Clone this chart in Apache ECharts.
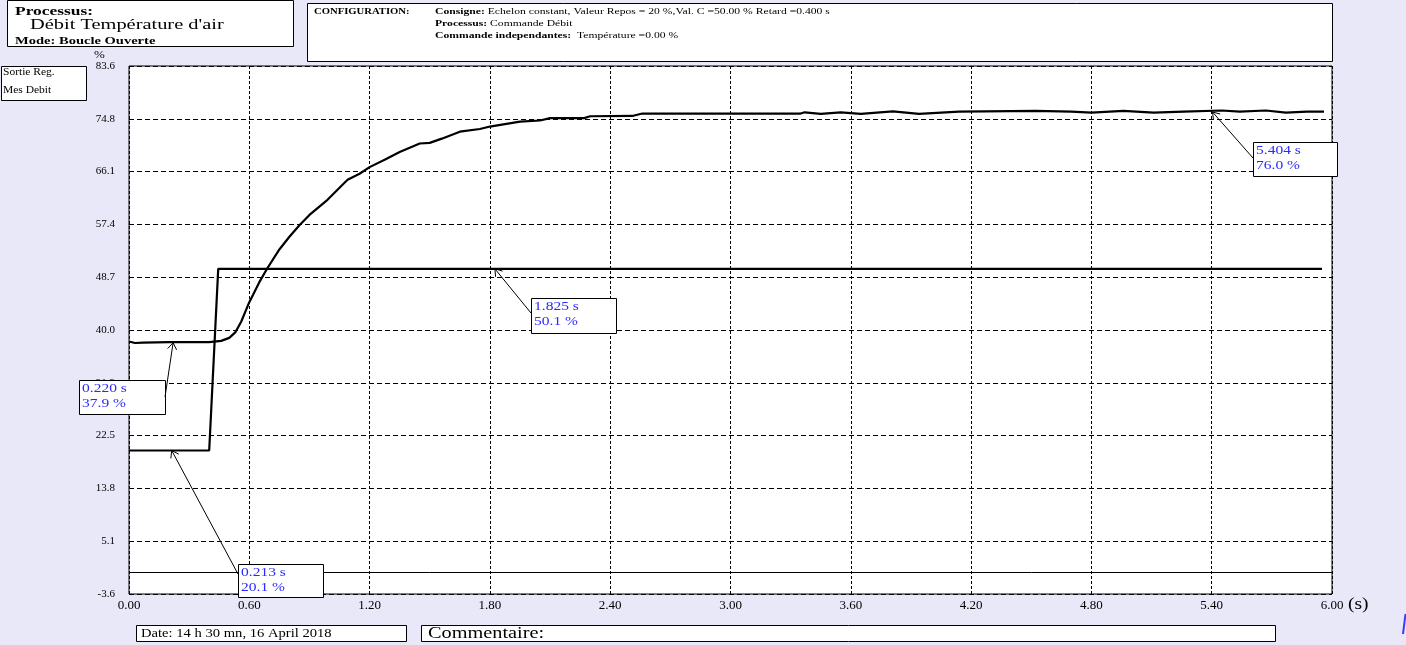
<!DOCTYPE html>
<html>
<head>
<meta charset="utf-8">
<script src="https://cdn.jsdelivr.net/npm/echarts@6/dist/echarts.min.js"></script>
<style>
html,body{margin:0;padding:0;background:#e8e8f8;}
#c{width:1406px;height:645px;}
</style>
</head>
<body>
<div id="c"></div>
<script>
// ---- data ----
const yTickLabels = ['-3.6','5.1','13.8','22.5','31.3','40.0','48.7','57.4','66.1','74.8','83.6'];
const xTickLabels = ['0.00','0.60','1.20','1.80','2.40','3.00','3.60','4.20','4.80','5.40','6.00'];
const yMin = -3.6, yMax = 83.6;

const sortieT = [0, 0.40, 0.445, 5.95];
const sortieV = [20.1, 20.1, 50.1, 50.1];

const mesT = [0.00,0.03,0.07,0.20,0.30,0.40,0.46,0.50,0.53,0.56,0.60,0.65,0.69,0.75,0.80,0.85,0.90,0.99,1.05,1.09,1.15,1.20,1.28,1.35,1.45,1.50,1.56,1.65,1.75,1.80,1.95,2.05,2.10,2.27,2.30,2.51,2.56,2.90,3.35,3.37,3.45,3.55,3.65,3.81,3.94,4.14,4.27,4.52,4.70,4.80,4.96,5.11,5.26,5.45,5.54,5.67,5.77,5.875,5.96];
const mesV = [38.1,37.85,37.9,38.0,38.0,38.0,38.2,38.7,39.6,41.4,44.6,47.9,50.2,53.3,55.4,57.3,59.0,61.5,63.5,64.8,65.8,66.9,68.2,69.4,70.8,70.9,71.6,72.75,73.2,73.6,74.4,74.6,75.0,75.0,75.3,75.35,75.75,75.75,75.75,75.95,75.7,75.95,75.7,76.1,75.7,76.05,76.1,76.2,76.05,75.9,76.2,75.9,76.05,76.25,76.05,76.25,75.9,76.05,76.05];

const annT = [0.220, 0.213, 1.825, 5.404];
const annV = [37.9, 20.1, 50.1, 76.0];

const serif = '"Liberation Serif","Times New Roman",serif';
const blue = '#2a2aff';

const chart = echarts.init(document.getElementById('c'), null, {renderer:'canvas'});

const option = {
  animation: false,
  backgroundColor: '#e8e8f8',
  grid: {left:129, top:66, right:74, bottom:51, show:true, backgroundColor:'#ffffff',
         borderColor:'#000', borderWidth:1, containLabel:false, outerBoundsMode:'none'},
  xAxis: {
    type:'value', min:0, max:6, interval:0.6,
    axisLine:{show:false}, axisTick:{show:false},
    axisLabel:{show:true, showMinLabel:true, showMaxLabel:true, margin:5,
      color:'#000', fontFamily:serif, fontSize:13,
      formatter: v => xTickLabels[Math.round(v/0.6)] || ''},
    splitLine:{show:true, lineStyle:{color:'#000', width:1, type:[3,2]}}
  },
  yAxis: [
    {type:'value', min:yMin, max:yMax, show:false, splitLine:{show:false}},
    {type:'value', min:0, max:10, interval:1, position:'left',
     axisLine:{show:false}, axisTick:{show:false},
     axisLabel:{show:true, showMinLabel:true, showMaxLabel:true, margin:14,
       color:'#000', fontFamily:serif, fontSize:11,
       formatter: v => yTickLabels[Math.round(v)] || ''},
     splitLine:{show:true, lineStyle:{color:'#000', width:1, type:[5,3]}}}
  ],
  series: [
    {name:'Sortie Reg.', type:'line', yAxisIndex:0, symbol:'none', showSymbol:false,
     data: sortieT.map((t,i)=>[t, sortieV[i]]),
     lineStyle:{color:'#000', width:2.2}, z:5,
     markLine:{silent:true, symbol:'none', label:{show:false},
       lineStyle:{color:'#000', width:1, type:'solid'},
       data:[{yAxis:0}]}},
    {name:'Mes Debit', type:'line', yAxisIndex:0, symbol:'none', showSymbol:false,
     data: mesT.map((t,i)=>[t, mesV[i]]),
     lineStyle:{color:'#000', width:2.2}, z:5}
  ]
};
chart.setOption(option);

// ---- decorations / callouts ----
function txt(x, y, text, font, color, sx, rich){
  const style = {text:text, font:font, fill:color, x:0, y:0,
    textAlign:'left', align:'left', textVerticalAlign:'middle', verticalAlign:'middle'};
  if (rich) style.rich = rich;
  return {type:'text', x:x, y:y, scaleX:sx, scaleY:1, z:110, silent:true, style:style};
}
function box(x, y, w, h){
  return {type:'rect', z:100, silent:true, shape:{x:x+0.5, y:y+0.5, width:w, height:h},
    style:{fill:'#fff', stroke:'#000', lineWidth:1}};
}
function line(x1,y1,x2,y2,color,w){
  return {type:'line', z:105, silent:true, shape:{x1:x1,y1:y1,x2:x2,y2:y2},
    style:{stroke:color||'#000', lineWidth:w||1}};
}

const g = [];
// header box
g.push(box(7, 0, 286, 46));
g.push(txt(15, 11.5, 'Processus:', 'bold 13px '+serif, '#000', 1.34));
g.push(txt(30, 25.5, 'Débit Température d\'air', '15px '+serif, '#000', 1.36));
g.push(txt(15, 41, 'Mode: Boucle Ouverte', 'bold 11px '+serif, '#000', 1.32));
// config box
g.push(box(307, 3, 1025, 58));
const bold8 = {b:{font:'bold 8.5px '+serif, fill:'#000'}};
g.push(txt(314, 11.5, 'CONFIGURATION:', 'bold 8px '+serif, '#000', 1.33));
g.push(txt(435, 11.5, '{b|Consigne:} Echelon constant, Valeur Repos = 20 %,Val. C =50.00 % Retard =0.400 s', '8.5px '+serif, '#000', 1.37, bold8));
g.push(txt(435, 23.5, '{b|Processus:} Commande Débit', '8.5px '+serif, '#000', 1.37, bold8));
g.push(txt(435, 35.5, '{b|Commande independantes:}  Température =0.00 %', '8.5px '+serif, '#000', 1.37, bold8));
// legend box
g.push(box(1, 66, 85, 34));
g.push(txt(3, 72, 'Sortie Reg.', '10px '+serif, '#000', 1.15));
g.push(txt(3, 90, 'Mes Debit', '10px '+serif, '#000', 1.15));
// axis unit labels
g.push(txt(94, 55.5, '%', '10px '+serif, '#000', 1.3));
g.push(txt(1348, 605, '(s)', '16px '+serif, '#000', 1.22));
// bottom boxes
g.push(box(136, 625, 270, 16));
g.push(txt(141, 633.5, 'Date: 14 h 30 mn, 16 April 2018', '11.5px '+serif, '#000', 1.27));
g.push(box(421, 625, 854, 16));
g.push(txt(428, 633.5, 'Commentaire:', '16.5px '+serif, '#000', 1.23));
// stray blue mark at right edge
g.push(line(1405.5, 614, 1403, 634, '#3a3aff', 2));

// callouts
const boxLayout = [
  {dx:-94, dy:37, w:86, h:34, side:'right', ly:17},
  {dx:66, dy:114, w:85, h:33, side:'left', ly:10},
  {dx:36, dy:29, w:85, h:35, side:'left', ly:15},
  {dx:40, dy:30, w:84, h:34, side:'left', ly:16}
];
annT.forEach((t, i) => {
  const p = chart.convertToPixel({xAxisIndex:0, yAxisIndex:0}, [t, annV[i]]);
  const L = boxLayout[i];
  const bx = Math.round(p[0] + L.dx), by = Math.round(p[1] + L.dy);
  const sx = L.side === 'right' ? bx + L.w : bx;
  const sy = by + L.ly;
  g.push(line(sx, sy, p[0], p[1], '#000', 1));
  const ang = Math.atan2(sy - p[1], sx - p[0]);
  const len = 8, spread = 0.6;
  g.push(line(p[0], p[1], p[0] + len*Math.cos(ang+spread), p[1] + len*Math.sin(ang+spread), '#000', 1));
  g.push(line(p[0], p[1], p[0] + len*Math.cos(ang-spread), p[1] + len*Math.sin(ang-spread), '#000', 1));
  g.push(box(bx, by, L.w, L.h));
  g.push(txt(bx + 3, by + 9, t.toFixed(3) + ' s', '12.5px '+serif, blue, 1.24));
  g.push(txt(bx + 3, by + 24, annV[i].toFixed(1) + ' %', '12.5px '+serif, blue, 1.24));
});

chart.setOption({graphic: {elements: g}});
</script>
</body>
</html>
